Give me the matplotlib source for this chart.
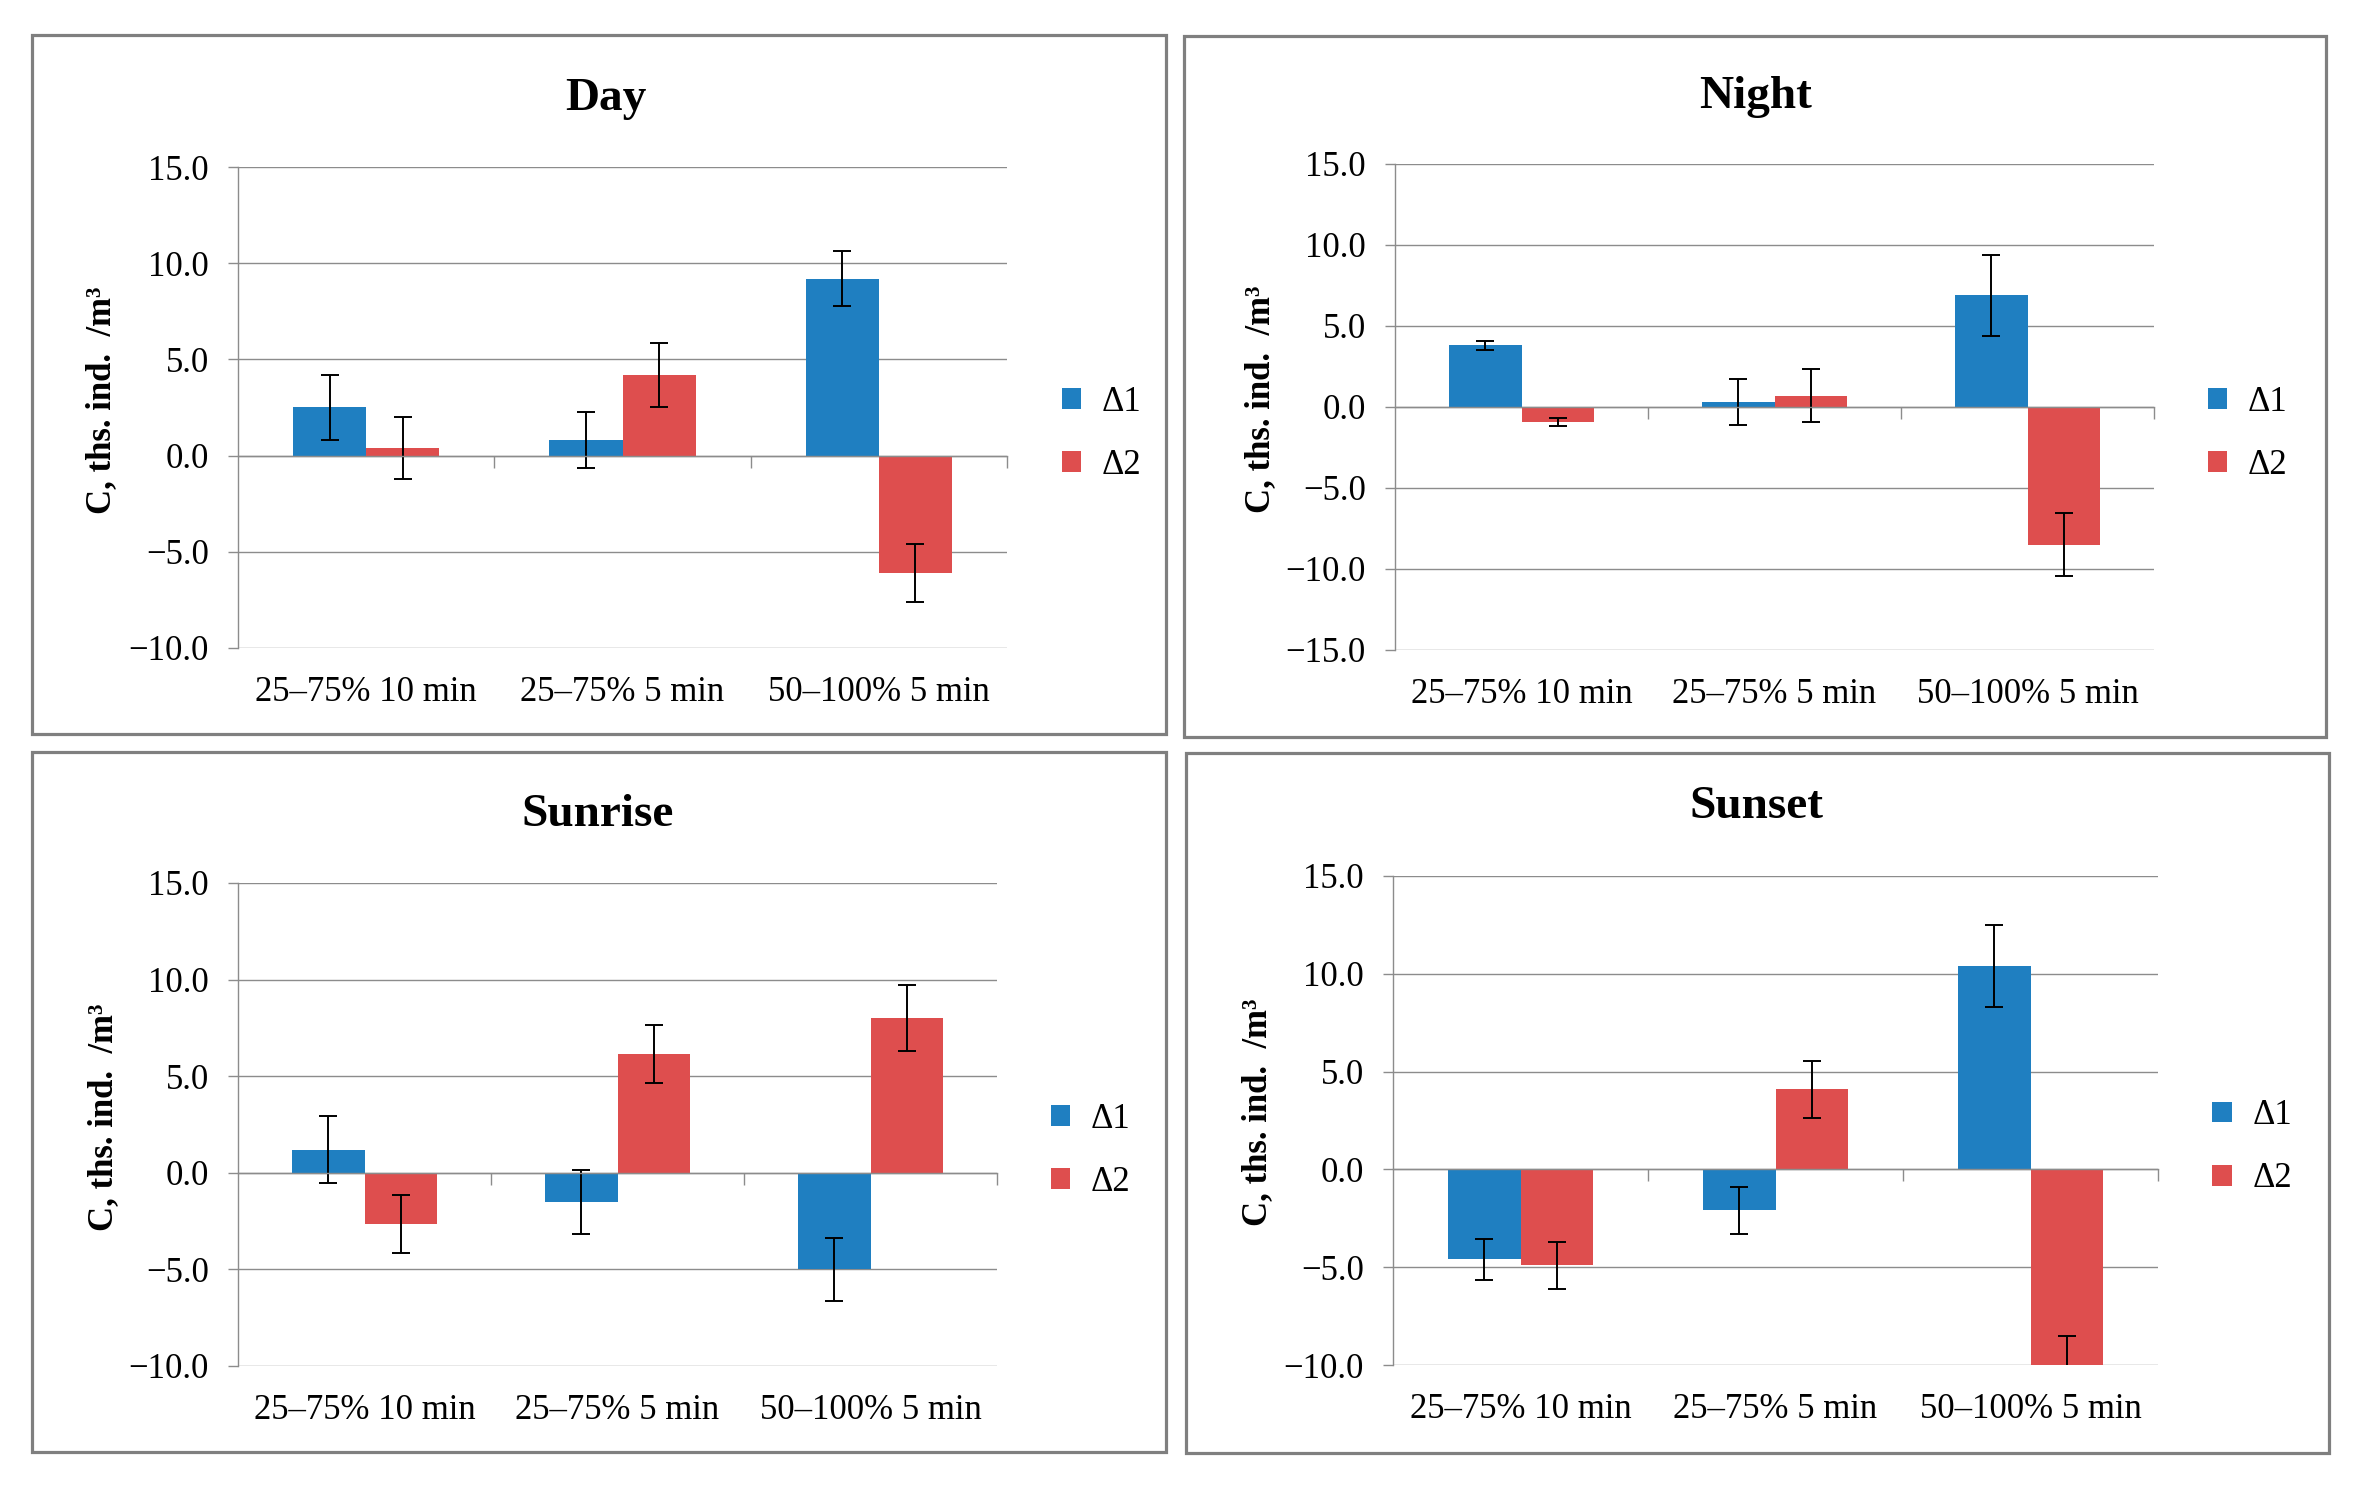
import matplotlib
matplotlib.use("Agg")
import matplotlib.pyplot as plt
from matplotlib.patches import Rectangle
from matplotlib.ticker import FuncFormatter
import numpy as np

plt.rcParams['font.family'] = ['Liberation Serif', 'DejaVu Serif']

categories = ["25\u201375% 10 min", "25\u201375% 5 min", "50\u2013100% 5 min"]
series_names = ["\u03941", "\u03942"]

day_d1 = [2.5, 0.8, 9.2]
day_d2 = [0.4, 4.2, -6.1]
day_e1 = [1.7, 1.45, 1.45]
day_e2 = [1.6, 1.65, 1.5]

night_d1 = [3.8, 0.3, 6.9]
night_d2 = [-0.9, 0.7, -8.5]
night_e1 = [0.3, 1.4, 2.5]
night_e2 = [0.25, 1.65, 1.95]

sunrise_d1 = [1.2, -1.5, -5.0]
sunrise_d2 = [-2.65, 6.15, 8.0]
sunrise_e1 = [1.75, 1.65, 1.65]
sunrise_e2 = [1.5, 1.5, 1.7]

sunset_d1 = [-4.6, -2.1, 10.4]
sunset_d2 = [-4.9, 4.1, -10.2]
sunset_e1 = [1.05, 1.2, 2.1]
sunset_e2 = [1.2, 1.45, 1.7]

panel_titles = ["Day", "Night", "Sunrise", "Sunset"]
y_limits = [(-10, 15), (-15, 15), (-10, 15), (-10, 15)]
y_label = "C, ths. ind.  /m\u00b3"

W, H = 2361, 1495
fig = plt.figure(figsize=(W / 100, H / 100), dpi=100)

BLUE = "#1f7fc1"
RED = "#de4e4e"
GRID = "#8c8c8c"
BORDER = "#7f7f7f"


def px_rect(x0, y0, x1, y1):
    return [x0 / W, 1 - y1 / H, (x1 - x0) / W, (y1 - y0) / H]


axes_px = [(238, 167, 1007, 648), (1395, 164, 2154, 650),
           (238, 883, 997, 1366), (1393, 876, 2158, 1365)]
panels_px = [(32, 35, 1166, 734), (1184, 36, 2326, 737),
             (32, 752, 1166, 1452), (1186, 753, 2329, 1453)]
title_pos = [(606, 110), (1756, 108), (598, 826), (1756, 818)]

data = [(day_d1, day_d2, day_e1, day_e2),
        (night_d1, night_d2, night_e1, night_e2),
        (sunrise_d1, sunrise_d2, sunrise_e1, sunrise_e2),
        (sunset_d1, sunset_d2, sunset_e1, sunset_e2)]

fmt = FuncFormatter(lambda v, p: ("%.1f" % v).replace("-", "\u2212"))

for i in range(4):
    # panel border
    x0, y0, x1, y1 = panels_px[i]
    fig.add_artist(Rectangle((x0 / W, 1 - y1 / H), (x1 - x0) / W, (y1 - y0) / H,
                             transform=fig.transFigure, facecolor="none",
                             edgecolor=BORDER, lw=2.3))
    ax = fig.add_axes(px_rect(*axes_px[i]))
    d1, d2, e1, e2 = data[i]
    x = np.arange(len(categories))
    w = 0.285
    ekw = dict(ecolor="black", elinewidth=1.4, capsize=6.5, capthick=1.4)
    b1 = ax.bar(x - w / 2, d1, w, color=BLUE, yerr=e1, error_kw=ekw, zorder=2)
    b2 = ax.bar(x + w / 2, d2, w, color=RED, yerr=e2, error_kw=ekw, zorder=2)
    ax.set_xlim(-0.5, 2.5)
    ax.set_ylim(*y_limits[i])
    ax.set_yticks(np.arange(y_limits[i][0], y_limits[i][1] + 0.1, 5))
    ax.yaxis.set_major_formatter(fmt)
    ax.yaxis.grid(True, color=GRID, lw=1.0)
    ax.set_axisbelow(True)
    for s in ("top", "right"):
        ax.spines[s].set_visible(False)
    ax.spines["left"].set_color(GRID)
    ax.spines["left"].set_linewidth(1.0)
    ax.spines["bottom"].set_position(("data", 0))
    ax.spines["bottom"].set_color(GRID)
    ax.spines["bottom"].set_linewidth(1.0)
    ax.set_xticks([0.5, 1.5, 2.5])
    ax.tick_params(axis="x", direction="out", length=8.5, width=1.0, color=GRID,
                   labelbottom=False)
    ax.tick_params(axis="y", direction="out", length=7, width=1.0, color=GRID,
                   labelsize=25, pad=14)
    sec = ax.secondary_xaxis("bottom")
    sec.set_xticks(x, labels=categories)
    sec.tick_params(length=0, labelsize=25, pad=20)
    sec.spines["bottom"].set_visible(False)
    ax.text(-0.177, 0.516, y_label, transform=ax.transAxes, rotation=90,
            ha="center", va="center", fontsize=25, fontweight="bold")
    ax.legend([b1, b2], series_names, loc="center left",
              bbox_to_anchor=(1.053, 0.445), frameon=False, fontsize=25,
              handlelength=0.55, handleheight=0.55, handletextpad=0.6,
              labelspacing=0.87, borderaxespad=0)
    tx, ty = title_pos[i]
    fig.text(tx / W, 1 - ty / H, panel_titles[i], ha="center", va="baseline",
             fontsize=34, fontweight="bold")

fig.savefig("out.png", dpi=100)
